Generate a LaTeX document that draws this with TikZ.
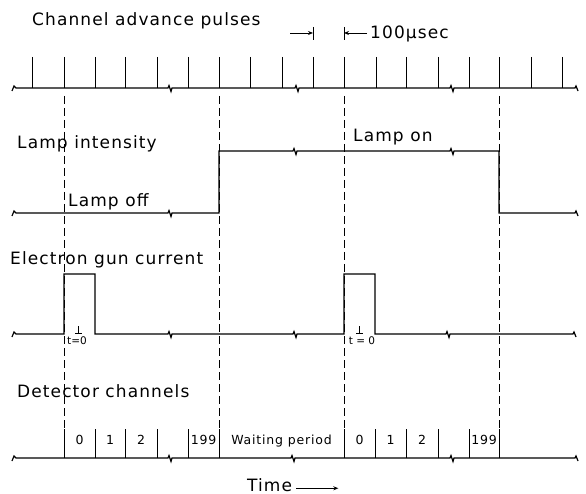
\documentclass[tikz,border=0pt]{standalone}
\usepackage{fontspec}
\setmainfont{DejaVu Sans}
\newfontfamily\lblfont[LetterSpace=6.5]{DejaVu Sans}
\usetikzlibrary{arrows.meta}
% zig-zag break mark inserted into a horizontal signal line at (x,y)
\newcommand\zz[2]{-- ({#1-2},#2) -- ({#1-1},{#2-2.5}) -- ({#1+1},{#2+3.5}) -- ({#1+2},#2)}
\begin{document}
\begin{tikzpicture}[x=1pt,y=-1pt,
  sig/.style={line width=1.2pt, line join=miter},
  tick/.style={line width=0.9pt},
  guide/.style={line width=0.8pt, dash pattern=on 8pt off 4pt},
  lbl/.style={anchor=base west, inner sep=0pt, font=\lblfont\fontsize{17}{17}\selectfont},
  cell/.style={anchor=base, inner sep=0pt, font=\lblfont\fontsize{12.5}{12.5}\selectfont},
  tz/.style={anchor=base, inner sep=0pt, font=\fontsize{10.5}{10.5}\selectfont},
  arr/.style={tick, -{Stealth[length=5pt,width=4pt]}}]
\useasboundingbox (0,0) rectangle (586,494);

% ---- channel advance pulses ----
\node[lbl] (tpulse) at (32,26) {Channel advance pulses};
\draw[sig] (12,91) -- (14,86) -- (16,88) \zz{170}{88} \zz{297}{88} \zz{452}{88}
  -- (575,88) -- (576,86) -- (578,91);
\foreach \x in {32,64,95,125,157,188,219,250,282,313,344,376,406,438,469,499,531,562}
  \draw[tick] (\x,57) -- (\x,88);
% 100 microsecond spacing
\draw[arr] (290,33) -- (313,33);
\draw[tick] (313,27) -- (313,40) (344,27) -- (344,40);
\draw[arr] (367,33) -- (344,33);
\node[lbl] (tspace) at (370,39) {100μsec};

% ---- time markers ----
\foreach \x in {64,219,344,499}
  \draw[guide] (\x,96) -- (\x,429);

% ---- lamp intensity ----
\node[lbl] (tlamp) at (17,149) {Lamp intensity};
\node[lbl] (toff) at (68,207) {Lamp off};
\node[lbl] (ton) at (353,142) {Lamp on};
\draw[sig] (12,216) -- (14,211) -- (16,213) \zz{170}{213} -- (219,213) -- (219,151)
  \zz{295}{151} \zz{452}{151} -- (499,151) -- (499,213) -- (575,213) -- (576,211) -- (578,216);

% ---- electron gun current ----
\node[lbl] (tgun) at (10,265) {Electron gun current};
\draw[sig] (12,337) -- (14,332) -- (16,334) -- (64,334) -- (64,274) -- (95,274) -- (95,334)
  \zz{170}{334} \zz{295}{334} -- (344,334) -- (344,274) -- (375,274) -- (375,334)
  \zz{448}{334} -- (573,334) -- (574,332) -- (576,337);
\draw[tick] (75,333) -- (82,333) (78.5,333) -- (78.5,326);
\node[tz] (tzero1) at (77,344) {t=0};
\draw[tick] (356,333) -- (363,333) (359.5,333) -- (359.5,326);
\node[tz] (tzero2) at (362,344) {t = 0};

% ---- detector channels ----
\node[lbl] (tdet) at (17,397) {Detector channels};
\draw[sig] (12,461) -- (14,456) -- (16,458) \zz{170}{458} \zz{293}{458} \zz{452}{458}
  -- (575,458) -- (576,456) -- (578,461);
\foreach \x in {64,95,125,157,188,219,344,375,406,438,469,499}
  \draw[tick] (\x,429) -- (\x,458);
\node[cell] (c0a) at (79.5,444) {0};
\node[cell] (c1a) at (110,444) {1};
\node[cell] (c2a) at (141,444) {2};
\node[cell] (c199a) at (203.5,444) {199};
\node[cell] (cwait) at (281.5,444) {Waiting period};
\node[cell] (c0b) at (359.5,444) {0};
\node[cell] (c1b) at (390.5,444) {1};
\node[cell] (c2b) at (422,444) {2};
\node[cell] (c199b) at (484,444) {199};

% ---- time axis ----
\node[lbl] (ttime) at (247,491) {Time};
\draw[arr] ([xshift=4pt]ttime.mid east) -- ++(42,0);
\end{tikzpicture}
\end{document}
